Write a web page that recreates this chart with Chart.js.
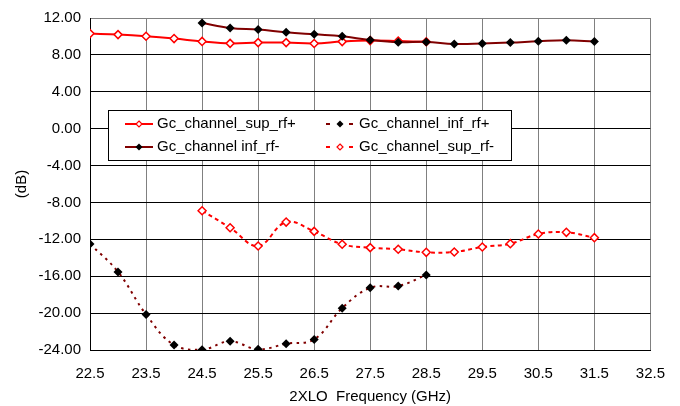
<!DOCTYPE html>
<html>
<head>
<meta charset="utf-8">
<script src="https://cdn.jsdelivr.net/npm/chart.js@4/dist/chart.umd.min.js"></script>
<style>
  html, body { margin: 0; padding: 0; background: #ffffff; }
  #wrap { width: 680px; height: 406px; }
</style>
</head>
<body>
<div id="wrap"><canvas id="c" width="680" height="406"></canvas></div>
<script>
// ---- data ----
const freqSupRfPlus = [22.5, 23, 23.5, 24, 24.5, 25, 25.5, 26, 26.5, 27, 27.5, 28, 28.5];
const supRfPlus     = [10.31, 10.20, 10.02, 9.77, 9.46, 9.25, 9.33, 9.33, 9.23, 9.44, 9.55, 9.50, 9.42];

const freqInfRfPlus = [22.5, 23, 23.5, 24, 24.5, 25, 25.5, 26, 26.5, 27, 27.5, 28, 28.5];
const infRfPlus     = [-12.50, -15.53, -20.14, -23.46, -23.96, -23.06, -23.93, -23.32, -22.85, -19.46, -17.25, -17.07, -15.86];

const freqInfRfMinus = [24.5, 25, 25.5, 26, 26.5, 27, 27.5, 28, 28.5, 29, 29.5, 30, 30.5, 31, 31.5];
const infRfMinus     = [11.46, 10.92, 10.74, 10.45, 10.23, 10.02, 9.62, 9.37, 9.41, 9.19, 9.23, 9.33, 9.48, 9.59, 9.44];

const freqSupRfMinus = [24.5, 25, 25.5, 26, 26.5, 27, 27.5, 28, 28.5, 29, 29.5, 30, 30.5, 31, 31.5];
const supRfMinus     = [-8.90, -10.74, -12.72, -10.13, -11.14, -12.54, -12.90, -13.08, -13.41, -13.37, -12.83, -12.47, -11.42, -11.24, -11.82];

const seriesNames = ['Gc_channel_sup_rf+', 'Gc_channel_inf_rf+', 'Gc_channel inf_rf-', 'Gc_channel_sup_rf-'];
const xTitle = '2XLO  Frequency (GHz)';
const yTitle = '(dB)';
const xMin = 22.5, xMax = 32.5, xStep = 1;
const yMin = -24, yMax = 12, yStep = 4;

const RED = '#ff0000';
const DARK = '#800000';
const FONT = '"Liberation Sans", Arial, sans-serif';

function pts(xs, ys) { return xs.map((x, i) => ({ x: x, y: ys[i] })); }

function diamond(ctx, x, y, r, fill, stroke, lw) {
  ctx.beginPath();
  ctx.moveTo(x, y - r);
  ctx.lineTo(x + r, y);
  ctx.lineTo(x, y + r);
  ctx.lineTo(x - r, y);
  ctx.closePath();
  ctx.fillStyle = fill;
  ctx.fill();
  if (stroke) { ctx.lineWidth = lw; ctx.strokeStyle = stroke; ctx.stroke(); }
}

const legendPlugin = {
  id: 'boxLegend',
  afterDraw(chart) {
    const ctx = chart.ctx;
    const a = chart.chartArea;
    const L = a.left + 18, T = a.top + 92, W = 403, H = 50;
    ctx.save();
    ctx.fillStyle = '#ffffff';
    ctx.fillRect(L, T, W, H);
    ctx.strokeStyle = '#000000';
    ctx.lineWidth = 1;
    ctx.strokeRect(L + 0.5, T + 0.5, W, H);
    ctx.font = '15px ' + FONT;
    ctx.textBaseline = 'middle';
    ctx.fillStyle = '#000000';
    const r1 = T + 14, r2 = T + 37;
    // col 1 row 1 : sup_rf+ solid red, open diamond
    ctx.setLineDash([]);
    ctx.lineWidth = 2;
    ctx.strokeStyle = RED;
    ctx.beginPath(); ctx.moveTo(L + 17, r1); ctx.lineTo(L + 45, r1); ctx.stroke();
    diamond(ctx, L + 31, r1, 3, '#ffffff', RED, 1.2);
    ctx.fillStyle = '#000'; ctx.fillText(seriesNames[0], L + 49, r1);
    // col 1 row 2 : inf_rf- solid dark red, black diamond
    ctx.lineWidth = 2;
    ctx.strokeStyle = DARK;
    ctx.beginPath(); ctx.moveTo(L + 17, r2); ctx.lineTo(L + 45, r2); ctx.stroke();
    diamond(ctx, L + 31, r2, 3.5, '#000000');
    ctx.fillStyle = '#000'; ctx.fillText(seriesNames[2], L + 49, r2);
    // col 2 row 1 : inf_rf+ dashed dark red, black diamond
    ctx.lineWidth = 2;
    ctx.strokeStyle = DARK;
    ctx.beginPath(); ctx.moveTo(L + 218, r1); ctx.lineTo(L + 222, r1); ctx.stroke();
    ctx.beginPath(); ctx.moveTo(L + 241, r1); ctx.lineTo(L + 245, r1); ctx.stroke();
    diamond(ctx, L + 232, r1, 3.5, '#000000');
    ctx.fillStyle = '#000'; ctx.fillText(seriesNames[1], L + 251, r1);
    // col 2 row 2 : sup_rf- dashed red, open diamond
    ctx.strokeStyle = RED;
    ctx.beginPath(); ctx.moveTo(L + 218, r2); ctx.lineTo(L + 222, r2); ctx.stroke();
    ctx.beginPath(); ctx.moveTo(L + 241, r2); ctx.lineTo(L + 245, r2); ctx.stroke();
    diamond(ctx, L + 232, r2, 3, '#ffffff', RED, 1.2);
    ctx.fillStyle = '#000'; ctx.fillText(seriesNames[3], L + 251, r2);
    ctx.restore();
  }
};

Chart.defaults.font.family = FONT;
Chart.defaults.font.size = 15;
Chart.defaults.color = '#000000';

new Chart(document.getElementById('c'), {
  type: 'line',
  data: {
    datasets: [
      {
        label: seriesNames[2],
        data: pts(freqInfRfMinus, infRfMinus),
        borderColor: DARK, borderWidth: 2, tension: 0.4,
        pointStyle: 'rectRot', pointRadius: 4.5,
        pointBackgroundColor: '#000000', pointBorderColor: '#000000', pointBorderWidth: 0,
        order: 0
      },
      {
        label: seriesNames[0],
        data: pts(freqSupRfPlus, supRfPlus),
        borderColor: RED, borderWidth: 2, tension: 0.4,
        pointStyle: 'rectRot', pointRadius: 4,
        pointBackgroundColor: '#ffffff', pointBorderColor: RED, pointBorderWidth: 1.5,
        order: 1
      },
      {
        label: seriesNames[1],
        data: pts(freqInfRfPlus, infRfPlus),
        borderColor: DARK, borderWidth: 2, borderDash: [2.5, 4.5], tension: 0.4,
        pointStyle: 'rectRot', pointRadius: 4.5,
        pointBackgroundColor: '#000000', pointBorderColor: '#000000', pointBorderWidth: 0,
        order: 2
      },
      {
        label: seriesNames[3],
        data: pts(freqSupRfMinus, supRfMinus),
        borderColor: RED, borderWidth: 2, borderDash: [4, 3.5], tension: 0.4,
        pointStyle: 'rectRot', pointRadius: 4,
        pointBackgroundColor: '#ffffff', pointBorderColor: RED, pointBorderWidth: 1.5,
        order: 3
      }
    ]
  },
  options: {
    responsive: false,
    animation: false,
    layout: { padding: { top: 17, right: 29, left: 0, bottom: 0 } },
    plugins: { legend: { display: false }, tooltip: { enabled: false } },
    scales: {
      x: {
        type: 'linear', min: xMin, max: xMax,
        afterFit(s) { s.height = 56; },
        ticks: { stepSize: xStep, padding: 15, maxRotation: 0, callback: v => v.toFixed(1), font: { size: 15 } },
        grid: {
          drawTicks: false,
          color: ctx => (ctx.tick && ctx.tick.value === xMin) ? '#000000' : '#808080',
          lineWidth: 1
        },
        border: { color: '#000000', width: 1 },
        title: { display: true, text: xTitle, font: { size: 15 }, padding: { top: 0, bottom: 0 } }
      },
      y: {
        min: yMin, max: yMax,
        afterFit(s) { s.width = 90; },
        ticks: { stepSize: yStep, padding: 9, callback: v => v.toFixed(2), font: { size: 15 } },
        grid: {
          drawTicks: false,
          color: ctx => (ctx.tick && ctx.tick.value === yMax) ? '#808080' : '#000000',
          lineWidth: 1
        },
        border: { color: '#000000', width: 1 },
        title: { display: true, text: yTitle, font: { size: 15 }, padding: { top: 13, bottom: 0 } }
      }
    }
  },
  plugins: [legendPlugin]
});
</script>
</body>
</html>
